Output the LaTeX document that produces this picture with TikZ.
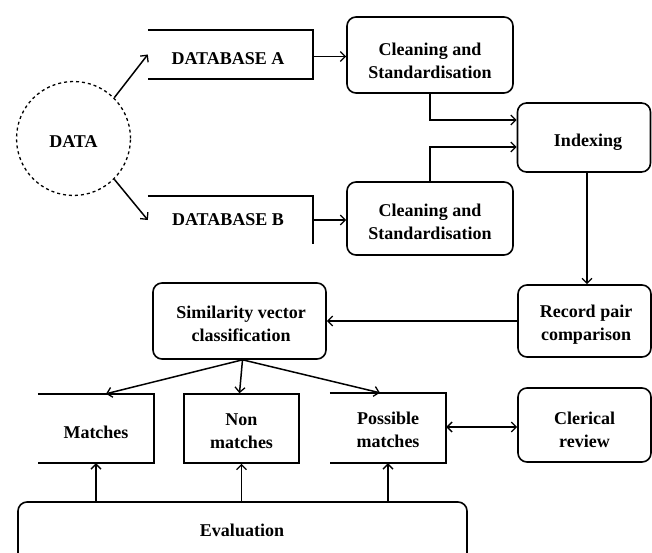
\documentclass[tikz,border=0pt]{standalone}
\usepackage{fontspec}
\setmainfont{Liberation Serif}
\usetikzlibrary{arrows.meta,calc}
\tikzset{
  shapebox/.style={draw, line width=1.6pt, rounded corners=9pt, inner sep=0pt},
  openbox/.style={inner sep=0pt},
  txt/.style={align=center, font=\fontsize{18}{23}\selectfont\bfseries, inner sep=1pt},
  edge/.style={line width=1.6pt},
  tip/.style={Straight Barb[length=5pt,width=10pt,line width=1.3pt]},
  conn/.style={line width=1.5pt, -{Straight Barb[length=5pt,width=10pt,line width=1.3pt]}},
  dconn/.style={line width=1.5pt, {Straight Barb[length=5pt,width=10pt,line width=1.3pt]}-{Straight Barb[length=5pt,width=10pt,line width=1.3pt]}}
}
\begin{document}
\begin{tikzpicture}[x=1pt,y=-1pt]
\useasboundingbox (0,0) rectangle (652,553);
\fill[white] (0,0) rectangle (652,553);
% shapes
\node[draw, circle, dashed, line width=1.3pt, minimum size=114pt, inner sep=0pt] (data) at (73.5,138.5) {};
\node[openbox, minimum width=165pt, minimum height=49pt] (dba) at (230.5,54.5) {};
\node[openbox, minimum width=165pt, minimum height=48pt] (dbb) at (230.5,220) {};
\node[shapebox, minimum width=166pt, minimum height=76pt] (c1) at (430,55) {};
\node[shapebox, minimum width=166pt, minimum height=73pt] (c2) at (430,218.5) {};
\node[shapebox, minimum width=133pt, minimum height=69pt] (idx) at (584,137.5) {};
\node[shapebox, minimum width=133pt, minimum height=72pt] (rpc) at (584.5,321) {};
\node[shapebox, minimum width=173pt, minimum height=76pt] (sim) at (239.5,321) {};
\node[openbox, minimum width=116pt, minimum height=69pt] (mat) at (96,428.5) {};
\node[draw, edge, openbox, minimum width=115pt, minimum height=69pt] (non) at (241.5,428.5) {};
\node[openbox, minimum width=116pt, minimum height=70pt] (pos) at (388,428) {};
\node[shapebox, minimum width=133pt, minimum height=74pt] (cler) at (584.5,425) {};
\node[shapebox, minimum width=449pt, minimum height=80pt] (eval) at (242.5,542) {};
% texts
\node[txt] (datat) at (73.5,142) {DATA};
\node[txt] (dbat) at (228,59) {DATABASE A};
\node[txt] (dbbt) at (228,220) {DATABASE B};
\node[txt] (c1t) at (430,61) {Cleaning and\\Standardisation};
\node[txt] (c2t) at (430,221.5) {Cleaning and\\Standardisation};
\node[txt] (idxt) at (588,142) {Indexing};
\node[txt] (rpct) at (586,325) {Record pair\\comparison};
\node[txt] (simt) at (241,323.5) {Similarity vector\\classification};
\node[txt] (matt) at (96,432) {Matches};
\node[txt] (nont) at (241.5,431) {Non\\matches};
\node[txt] (post) at (388,430) {Possible\\matches};
\node[txt] (clert) at (584.5,430) {Clerical\\review};
\node[txt] (evalt) at (242,530) {Evaluation};
% open boxes
\draw[edge] (dba.north west) -- (dba.north east) -- (dba.south east) -- (dba.south west);
\draw[edge] (dbb.north west) -- (dbb.north east) -- (dbb.south east);
\draw[edge] (mat.north west) -- (mat.north east) -- (mat.south east) -- (mat.south west);
\draw[edge] (pos.north west) -- (pos.north east) -- (pos.south east) -- (pos.south west);
% connectors
\draw[conn] (data.45) -- (dba.west);
\draw[conn] (data.-45) -- (dbb.west);
\draw[conn] ([yshift=-2pt]dba.east) -- ([yshift=-2pt]dba.east -| c1.west);
\draw[conn] (dbb.east) -- (dbb.east -| c2.west);
\draw[conn] (c1.south) |- ([yshift=17.5pt]idx.west);
\draw[conn] (c2.north) |- ([yshift=-9.5pt]idx.west);
\draw[conn] ([xshift=3pt]idx.south) -- ([xshift=3pt]idx.south |- rpc.north);
\draw[conn] (rpc.west) -- (rpc.west -| sim.east);
\draw[conn] ([xshift=3pt]sim.south) -- ([xshift=10pt]mat.north);
\draw[conn] ([xshift=3pt]sim.south) -- (sim.south |- non.north);
\draw[conn] ([xshift=3pt]sim.south) -- ([xshift=-8pt]pos.north);
\draw[dconn] ([yshift=1pt]pos.east) -- ([yshift=1pt]pos.east -| cler.west);
\draw[conn] (eval.north -| mat.south) -- (mat.south);
\draw[conn] (eval.north -| non.south) -- (non.south);
\draw[conn] (eval.north -| pos.south) -- (pos.south);
\end{tikzpicture}
\end{document}
